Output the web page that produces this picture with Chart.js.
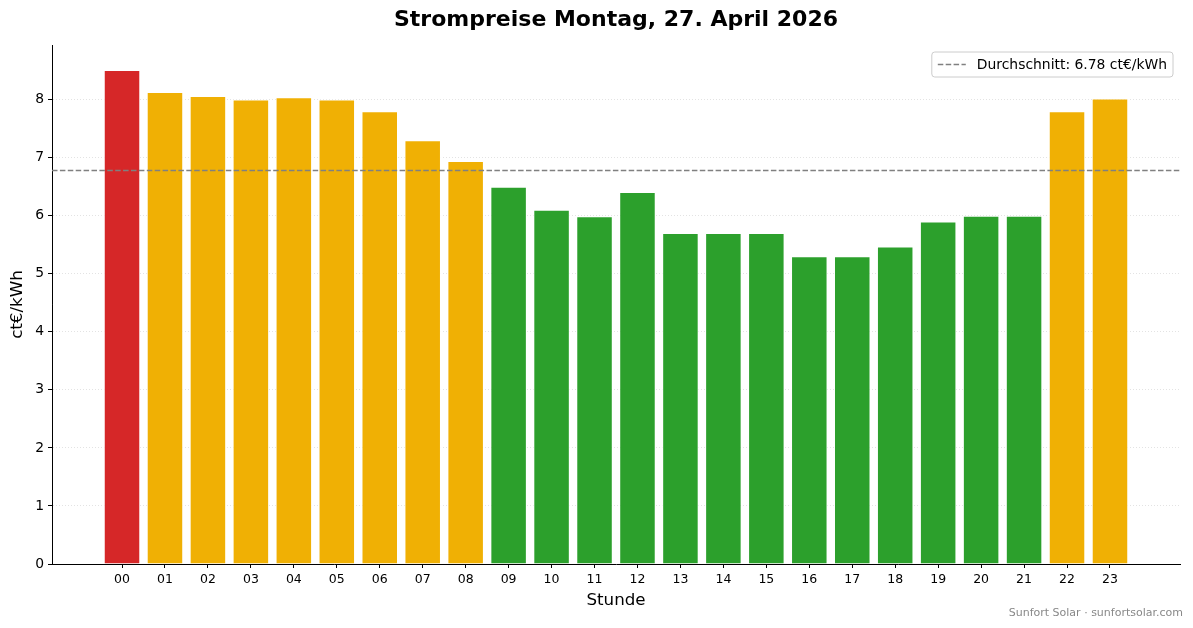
<!DOCTYPE html>
<html>
<head>
<meta charset="utf-8">
<script src="https://cdn.jsdelivr.net/npm/chart.js@4.4.1/dist/chart.umd.min.js"></script>
<style>
  html, body { margin: 0; padding: 0; background: #fff; }
  #wrap { width: 1193px; height: 628px; position: relative; }
</style>
</head>
<body>
<div id="wrap"><canvas id="priceChart"></canvas></div>
<script>
const hours = ["00", "01", "02", "03", "04", "05", "06", "07", "08", "09", "10", "11",
  "12", "13", "14", "15", "16", "17", "18", "19", "20", "21", "22", "23"];
const prices = [8.51, 8.13, 8.06, 8.00, 8.04, 8.00, 7.80, 7.30, 6.94, 6.50, 6.10, 5.99,
  6.41, 5.70, 5.70, 5.70, 5.30, 5.30, 5.47, 5.90, 6.00, 6.00, 7.80, 8.02];
const xLimits = [-1.63, 24.63];
const yLimits = [0, 8.94];

const chartTitle = "Strompreise Montag, 27. April 2026";
const footerText = "Sunfort Solar · sunfortsolar.com";
const FONT = "'DejaVu Sans', sans-serif";

const average = prices.reduce((a, b) => a + b, 0) / prices.length;
const maxPrice = Math.max(...prices);
const avgLabel = "Durchschnitt: " + average.toFixed(2) + " ct€/kWh";

const barColors = prices.map((p) => {
  if (p === maxPrice) return "#d62728";
  if (p >= average) return "#f0b004";
  return "#2ca02c";
});

// title, legend box and footer drawn on top
const overlayText = {
  id: "overlayText",
  afterDraw(chart) {
    const { ctx, chartArea } = chart;
    ctx.save();
    ctx.fillStyle = "#000";
    ctx.font = "bold 22px " + FONT;
    ctx.textAlign = "center";
    ctx.textBaseline = "middle";
    ctx.fillText(chartTitle, (chartArea.left + chartArea.right) / 2, 20);

    ctx.font = "13.9px " + FONT;
    const tw = ctx.measureText(avgLabel).width;
    const boxW = 45 + tw + 6;
    const boxH = 25;
    const bx = chartArea.right - 7 - boxW;
    const by = chartArea.top + 7;
    ctx.beginPath();
    ctx.roundRect(bx, by, boxW, boxH, 3);
    ctx.fillStyle = "rgba(255,255,255,0.85)";
    ctx.fill();
    ctx.strokeStyle = "#cccccc";
    ctx.lineWidth = 1;
    ctx.stroke();

    ctx.beginPath();
    ctx.setLineDash([5.5, 2.4]);
    ctx.strokeStyle = "#808080";
    ctx.lineWidth = 1.5;
    ctx.moveTo(bx + 6, by + boxH / 2);
    ctx.lineTo(bx + 34, by + boxH / 2);
    ctx.stroke();
    ctx.setLineDash([]);

    ctx.fillStyle = "#000";
    ctx.textAlign = "left";
    ctx.fillText(avgLabel, bx + 45, by + boxH / 2 + 0.5);

    ctx.font = "11px " + FONT;
    ctx.fillStyle = "#888888";
    ctx.textAlign = "right";
    ctx.fillText(footerText, 1183, 613);
    ctx.restore();
  },
};

const ctx = document.getElementById("priceChart").getContext("2d");
const priceChart = new Chart(ctx, {
  type: "bar",
  data: {
    datasets: [
      {
        type: "line",
        label: avgLabel,
        data: [
          { x: xLimits[0], y: average },
          { x: xLimits[1], y: average },
        ],
        borderColor: "#808080",
        borderWidth: 1.6,
        borderDash: [5.5, 2.4],
        pointRadius: 0,
        order: 0,
      },
      {
        label: "Preis",
        data: prices.map((p, i) => ({ x: i, y: p })),
        backgroundColor: barColors,
        borderColor: "#ffffff",
        borderWidth: 1,
        barPercentage: 0.85,
        categoryPercentage: 1,
        order: 1,
      },
    ],
  },
  options: {
    responsive: true,
    maintainAspectRatio: false,
    animation: false,
    devicePixelRatio: 1,
    layout: { padding: { top: 45, right: 13, left: 0, bottom: 0 } },
    plugins: {
      legend: { display: false },
      tooltip: { enabled: false },
    },
    scales: {
      x: {
        type: "linear",
        offset: false,
        min: xLimits[0],
        max: xLimits[1],
        afterBuildTicks: (axis) => {
          axis.ticks = hours.map((h, i) => ({ value: i }));
        },
        afterFit: (axis) => {
          axis.height = 64;
        },
        ticks: {
          stepSize: 1,
          includeBounds: false,
          autoSkip: false,
          maxRotation: 0,
          padding: 4,
          color: "#000",
          font: { family: FONT, size: 12.5 },
          callback: (v) => hours[v] ?? "",
        },
        grid: {
          offset: false,
          drawOnChartArea: false,
          drawTicks: true,
          tickLength: 4,
          tickColor: "#000",
        },
        border: { color: "#000", width: 1 },
        title: {
          display: true,
          text: "Stunde",
          color: "#000",
          font: { family: FONT, size: 16.7 },
          padding: { top: 0, bottom: 17 },
        },
      },
      y: {
        min: yLimits[0],
        max: yLimits[1],
        afterBuildTicks: (axis) => {
          axis.ticks = axis.ticks.filter((t) => Number.isInteger(t.value));
        },
        afterFit: (axis) => {
          axis.width = 52;
        },
        ticks: {
          stepSize: 1,
          padding: 4,
          color: "#000",
          font: { family: FONT, size: 13.9 },
        },
        grid: {
          color: "#dcdcdc",
          lineWidth: 0.8,
          tickLength: 4,
          tickColor: "#000",
          tickWidth: 1,
        },
        border: { color: "#000", width: 1, dash: [1, 2] },
        title: {
          display: true,
          text: "ct€/kWh",
          color: "#000",
          font: { family: FONT, size: 16.7 },
          padding: { top: 8, bottom: 0 },
        },
      },
    },
  },
  plugins: [overlayText],
});
</script>
</body>
</html>
